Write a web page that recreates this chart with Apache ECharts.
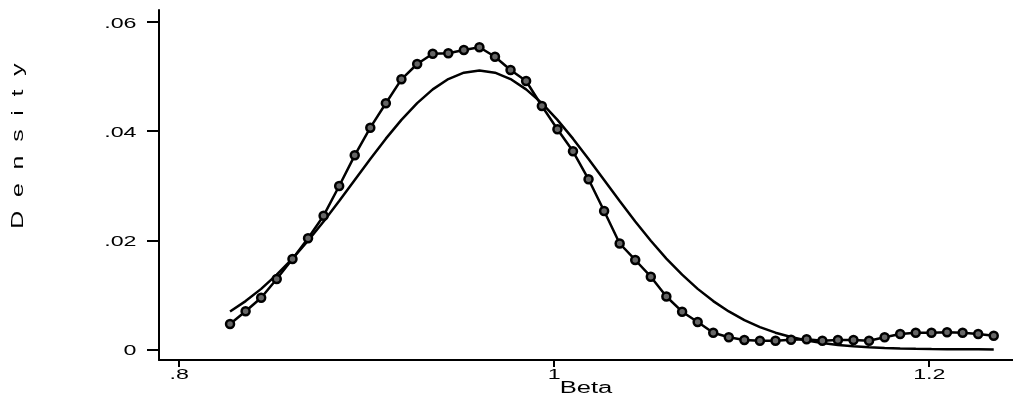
<!DOCTYPE html>
<html>
<head>
<meta charset="utf-8">
<script src="https://cdn.jsdelivr.net/npm/echarts@6/dist/echarts.min.js"></script>
<style>
  html, body { margin: 0; padding: 0; background: #fff; }
  #main { width: 1013px; height: 401px; }
</style>
</head>
<body>
<div id="main"></div>
<script>
// grid of Beta values (50 points)
const betaX = [
  0.8276, 0.8359, 0.8442, 0.8525, 0.8609, 0.8692, 0.8775, 0.8858, 0.8941, 0.9024,
  0.9107, 0.9190, 0.9274, 0.9357, 0.9440, 0.9523, 0.9606, 0.9689, 0.9772, 0.9855,
  0.9939, 1.0022, 1.0105, 1.0188, 1.0271, 1.0354, 1.0437, 1.0520, 1.0603, 1.0687,
  1.0770, 1.0853, 1.0936, 1.1019, 1.1102, 1.1185, 1.1268, 1.1351, 1.1435, 1.1518,
  1.1601, 1.1684, 1.1767, 1.1850, 1.1933, 1.2017, 1.2100, 1.2183, 1.2266, 1.2349
];
// kernel density (line with circles)
const kdensity = [
  0.00466, 0.00699, 0.00948, 0.01291, 0.01657, 0.02036, 0.02450, 0.02994, 0.03556, 0.04062,
  0.04509, 0.04948, 0.05229, 0.05417, 0.05425, 0.05485, 0.05535, 0.05362, 0.05119, 0.04917,
  0.04459, 0.04033, 0.03630, 0.03117, 0.02536, 0.01941, 0.01639, 0.01333, 0.00970, 0.00692,
  0.00503, 0.00307, 0.00223, 0.00173, 0.00160, 0.00160, 0.00179, 0.00186, 0.00160, 0.00173,
  0.00173, 0.00160, 0.00223, 0.00283, 0.00307, 0.00307, 0.00314, 0.00307, 0.00283, 0.00252
];
// normal density (plain line)
const normalDens = [
  0.00696, 0.00886, 0.01110, 0.01370, 0.01664, 0.01991, 0.02345, 0.02719, 0.03104, 0.03489,
  0.03861, 0.04206, 0.04511, 0.04764, 0.04953, 0.05070, 0.05110, 0.05070, 0.04953, 0.04764,
  0.04511, 0.04206, 0.03861, 0.03489, 0.03104, 0.02719, 0.02345, 0.01991, 0.01664, 0.01370,
  0.01110, 0.00886, 0.00696, 0.00538, 0.00410, 0.00307, 0.00227, 0.00165, 0.00118, 0.00083,
  0.00058, 0.00039, 0.00026, 0.00017, 0.00011, 0.00007, 0.00005, 0.00003, 0.00002, 0.00001
];
const xTicks = [0.8, 1, 1.2];
const xTickLabels = ['.8', '1', '1.2'];
const yTicks = [0, 0.02, 0.04, 0.06];
const yTickLabels = ['0', '.02', '.04', '.06'];

const chart = echarts.init(document.getElementById('main'));
const black = '#000';
const labelFont = '15px "Liberation Sans", Arial, sans-serif';
const titleFont = '16px "Liberation Sans", Arial, sans-serif';

chart.setOption({
  animation: false,
  backgroundColor: '#fff',
  grid: { left: 159, right: 0, top: 10, bottom: 41 },
  xAxis: {
    type: 'value',
    min: 0.78971,
    max: 1.24517,
    axisLine: { onZero: false, lineStyle: { color: black, width: 2 } },
    axisTick: { customValues: xTicks, length: 7, lineStyle: { color: black, width: 2 } },
    axisLabel: { show: false },
    splitLine: { show: false }
  },
  yAxis: {
    type: 'value',
    min: -0.001931,
    max: 0.062178,
    axisLine: { show: true, onZero: false, lineStyle: { color: black, width: 2 } },
    axisTick: { show: true, customValues: yTicks, length: 12, lineStyle: { color: black, width: 2 } },
    axisLabel: { show: false },
    splitLine: { show: false }
  },
  series: [
    {
      name: 'Normal',
      type: 'line',
      data: betaX.map((x, i) => [x, normalDens[i]]),
      showSymbol: false,
      lineStyle: { color: black, width: 2.5 },
      z: 2
    },
    {
      name: 'Kernel density',
      type: 'line',
      data: betaX.map((x, i) => [x, kdensity[i]]),
      symbol: 'circle',
      symbolSize: 8,
      itemStyle: { color: '#666', borderColor: black, borderWidth: 2.5 },
      lineStyle: { color: black, width: 2.5 },
      z: 3
    }
  ]
});

// tick labels and titles, stretched sideways like the original
const graphics = [];
yTicks.forEach((v, i) => {
  const p = chart.convertToPixel({ gridIndex: 0 }, [0.8, v]);
  graphics.push({
    type: 'text', x: 136.5, y: p[1] + 1.5, scaleX: 1.55,
    style: { text: yTickLabels[i], font: labelFont, fill: black, align: 'right', verticalAlign: 'middle' }
  });
});
xTicks.forEach((v, i) => {
  const p = chart.convertToPixel({ gridIndex: 0 }, [v, 0]);
  graphics.push({
    type: 'text', x: p[0] + 1, y: 374.5, scaleX: 1.55,
    style: { text: xTickLabels[i], font: labelFont, fill: black, align: 'center', verticalAlign: 'middle' }
  });
});
graphics.push({
  type: 'text', x: 586, y: 389, scaleX: 1.6,
  style: { text: 'Beta', font: titleFont, fill: black, align: 'center', verticalAlign: 'middle' }
});
graphics.push({
  type: 'text', x: 19, y: 146, rotation: Math.PI / 2, scaleX: 1.55,
  style: { text: 'D  e  n  s  i  t  y', font: titleFont, fill: black, align: 'center', verticalAlign: 'middle' }
});
chart.setOption({ graphic: graphics });
</script>
</body>
</html>
